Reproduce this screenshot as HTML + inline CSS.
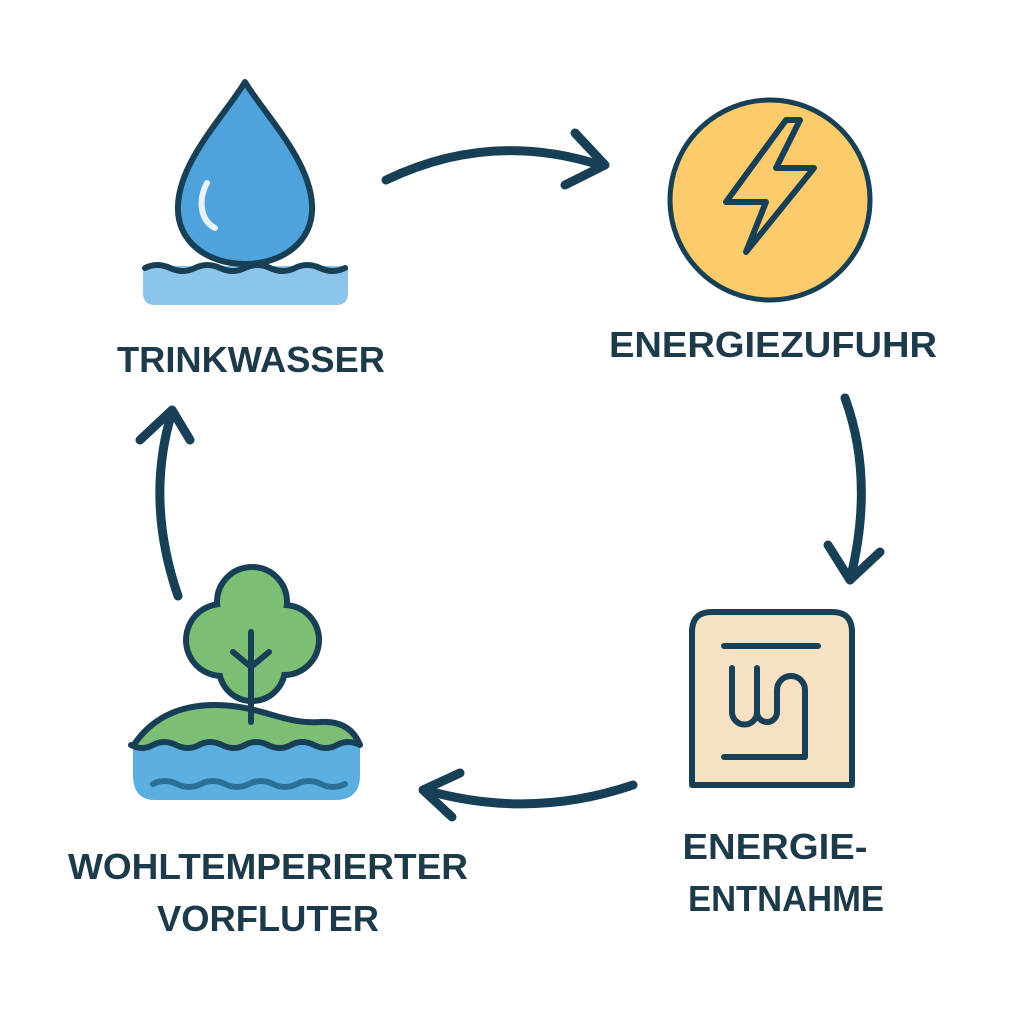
<!DOCTYPE html>
<html><head><meta charset="utf-8"><style>html,body{margin:0;padding:0;background:#fff}</style></head>
<body>
<svg width="1024" height="1024" viewBox="0 0 1024 1024" xmlns="http://www.w3.org/2000/svg">
<rect width="1024" height="1024" fill="#fff"/>
<g stroke="#173f55" stroke-linecap="round" stroke-linejoin="round" fill="none">
<!-- water drop -->
<path d="M143,266 H348 V293 Q348,305 336,305 H155 Q143,305 143,293 Z" fill="#8cc4ea" stroke="none"/>
<path d="M245,82 C225,115 180,160 178,205 C176,242 208,264 245,264 C282,264 314,242 312,205 C310,160 265,115 245,82 Z" fill="#4fa3dc" stroke-width="6"/>
<path d="M207,183 C198,200 200,220 215,228" stroke="#e6f3fb" stroke-width="6"/>
<path d="M145,268 q12,-6 25,0 t25,0 t25,0 t25,0 t25,0 t25,0 t25,0 t25,0" stroke-width="6"/>
<!-- arrows -->
<path d="M386,180 Q490,130 600,165" stroke-width="9"/>
<path d="M575,133 L605,165 L565,185" stroke-width="9"/>
<path d="M845,398 Q875,480 850,580" stroke-width="9"/>
<path d="M828,545 L850,580 L880,552" stroke-width="9"/>
<path d="M633,785 Q530,820 425,790" stroke-width="9"/>
<path d="M460,773 L423,790 L452,817" stroke-width="9"/>
<path d="M178,596 Q145,500 172,412" stroke-width="9"/>
<path d="M140,440 L172,410 L190,440" stroke-width="9"/>
<!-- energy -->
<circle cx="770" cy="200" r="100" fill="#fccb6b" stroke-width="5"/>
<path d="M786,120 L726,202 L766,202 L746,252 L814,168 L776,168 L800,120 Z" stroke-width="6"/>
<!-- heater -->
<path d="M692,785 V632 Q692,612 712,612 H832 Q852,612 852,632 V785 Z" fill="#f7e1c3" stroke-width="6"/>
<path d="M724,646 H818 M732,668 V712 a12.5,12.5 0 0 0 25,0 V668 M757,712 a10,10 0 0 0 20,0 V690 a14,14 0 0 1 28,0 V757 H724" stroke-width="6"/>
<!-- tree & island -->
<path d="M133,750 Q160,705 215,705 C260,705 285,725 320,722 Q350,720 360,745 L360,775 Q360,800 335,800 H155 Q133,800 133,775 Z" fill="#5aafe0" stroke="none"/>
<g stroke-width="12">
<circle cx="252" cy="602" r="32"/><circle cx="222" cy="640" r="33"/><circle cx="284" cy="640" r="32"/><circle cx="252" cy="668" r="30"/>
</g>
<g fill="#7cbf74" stroke="none">
<circle cx="252" cy="602" r="32"/><circle cx="222" cy="640" r="33"/><circle cx="284" cy="640" r="32"/><circle cx="252" cy="668" r="30"/>
</g>
<path d="M133,746 Q160,705 215,705 C260,705 285,725 320,722 Q350,720 360,745 q-12,-6 -23,0 t-23,0 t-23,0 t-23,0 t-23,0 t-23,0 t-23,0 t-23,0 t-23,0 t-22,0 Z" fill="#7cbf74" stroke-width="6"/>
<path d="M153,784 q12,-6 24,0 t24,0 t24,0 t24,0 t24,0 t24,0 t24,0 t24,0" stroke="#2e6f95" stroke-width="6"/>
<path d="M251,632 V722 M233,652 L251,667 L269,652" stroke-width="6"/>
</g>
<g font-family="'Liberation Sans', sans-serif" font-weight="bold" font-size="36" fill="#1d3a4a" text-anchor="middle">
<text x="251" y="372" textLength="268" lengthAdjust="spacingAndGlyphs">TRINKWASSER</text>
<text x="773" y="357" textLength="328" lengthAdjust="spacingAndGlyphs">ENERGIEZUFUHR</text>
<text x="775" y="859" textLength="185" lengthAdjust="spacingAndGlyphs">ENERGIE-</text>
<text x="786" y="911" textLength="196" lengthAdjust="spacingAndGlyphs">ENTNAHME</text>
<text x="268" y="879" textLength="400" lengthAdjust="spacingAndGlyphs">WOHLTEMPERIERTER</text>
<text x="268" y="931" textLength="222" lengthAdjust="spacingAndGlyphs">VORFLUTER</text>
</g>
</svg>
</body></html>
